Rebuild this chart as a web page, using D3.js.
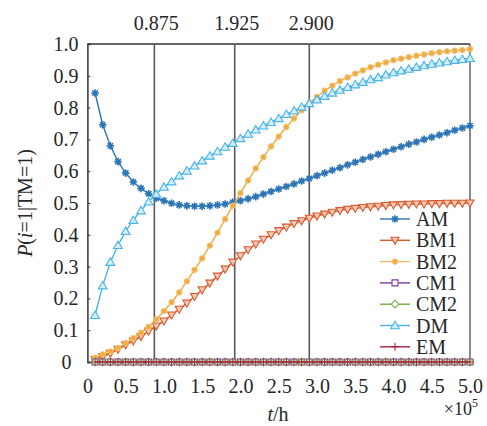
<!DOCTYPE html>
<html>
<head>
<meta charset="utf-8">
<script src="https://cdn.jsdelivr.net/npm/d3@7"></script>
<style>
  body { margin: 0; background: #fff; }
</style>
</head>
<body>
<script>
// time in units of 1e5 h
const tValues = [0.1, 0.2, 0.3, 0.4, 0.5, 0.6, 0.7, 0.8, 0.9, 1.0,
  1.1, 1.2, 1.3, 1.4, 1.5, 1.6, 1.7, 1.8, 1.9, 2.0,
  2.1, 2.2, 2.3, 2.4, 2.5, 2.6, 2.7, 2.8, 2.9, 3.0,
  3.1, 3.2, 3.3, 3.4, 3.5, 3.6, 3.7, 3.8, 3.9, 4.0,
  4.1, 4.2, 4.3, 4.4, 4.5, 4.6, 4.7, 4.8, 4.9, 5.0];

const amValues = [0.846, 0.746, 0.680, 0.630, 0.594, 0.566, 0.546, 0.529, 0.515, 0.507,
  0.499, 0.494, 0.491, 0.490, 0.490, 0.491, 0.494, 0.497, 0.502, 0.507,
  0.513, 0.520, 0.528, 0.536, 0.544, 0.552, 0.560, 0.569, 0.577, 0.586,
  0.594, 0.603, 0.611, 0.620, 0.628, 0.637, 0.645, 0.653, 0.661, 0.669,
  0.677, 0.685, 0.692, 0.700, 0.707, 0.714, 0.721, 0.729, 0.736, 0.743];

const bm1Values = [0.008, 0.017, 0.027, 0.040, 0.054, 0.066, 0.080, 0.097, 0.113, 0.129,
  0.148, 0.166, 0.185, 0.206, 0.227, 0.248, 0.270, 0.292, 0.314, 0.334,
  0.353, 0.371, 0.386, 0.400, 0.413, 0.424, 0.435, 0.444, 0.452, 0.459,
  0.465, 0.471, 0.476, 0.480, 0.483, 0.486, 0.488, 0.490, 0.492, 0.494,
  0.495, 0.496, 0.497, 0.497, 0.498, 0.498, 0.499, 0.499, 0.499, 0.500];

const bm2Values = [0.014, 0.024, 0.033, 0.044, 0.059, 0.075, 0.092, 0.111, 0.134, 0.160,
  0.188, 0.219, 0.254, 0.290, 0.326, 0.366, 0.407, 0.449, 0.491, 0.531,
  0.571, 0.609, 0.644, 0.678, 0.709, 0.739, 0.766, 0.792, 0.814, 0.834,
  0.853, 0.869, 0.883, 0.895, 0.907, 0.917, 0.927, 0.935, 0.942, 0.949,
  0.954, 0.959, 0.963, 0.967, 0.971, 0.974, 0.977, 0.979, 0.981, 0.984];

const cm1Values = [0, 0, 0, 0, 0, 0, 0, 0, 0, 0, 0, 0, 0, 0, 0, 0, 0, 0, 0, 0, 0, 0, 0, 0, 0,
  0, 0, 0, 0, 0, 0, 0, 0, 0, 0, 0, 0, 0, 0, 0, 0, 0, 0, 0, 0, 0, 0, 0, 0, 0];

const cm2Values = [0, 0, 0, 0, 0, 0, 0, 0, 0, 0, 0, 0, 0, 0, 0, 0, 0, 0, 0, 0, 0, 0, 0, 0, 0,
  0, 0, 0, 0, 0, 0, 0, 0, 0, 0, 0, 0, 0, 0, 0, 0, 0, 0, 0, 0, 0, 0, 0, 0, 0];

const dmValues = [0.147, 0.240, 0.314, 0.367, 0.411, 0.446, 0.476, 0.504, 0.528, 0.550,
  0.567, 0.586, 0.601, 0.617, 0.633, 0.648, 0.662, 0.676, 0.688, 0.703,
  0.717, 0.730, 0.743, 0.754, 0.766, 0.779, 0.790, 0.802, 0.813, 0.825,
  0.836, 0.846, 0.855, 0.864, 0.872, 0.880, 0.888, 0.895, 0.903, 0.910,
  0.916, 0.921, 0.927, 0.932, 0.937, 0.941, 0.945, 0.949, 0.952, 0.955];

const emValues = [0, 0, 0, 0, 0, 0, 0, 0, 0, 0, 0, 0, 0, 0, 0, 0, 0, 0, 0, 0, 0, 0, 0, 0, 0,
  0, 0, 0, 0, 0, 0, 0, 0, 0, 0, 0, 0, 0, 0, 0, 0, 0, 0, 0, 0, 0, 0, 0, 0, 0];

const seriesNames = ['AM', 'BM1', 'BM2', 'CM1', 'CM2', 'DM', 'EM'];
const markLines = [0.875, 1.925, 2.900];
const xTicks = [0, 0.5, 1.0, 1.5, 2.0, 2.5, 3.0, 3.5, 4.0, 4.5, 5.0];
const yTicks = [0, 0.1, 0.2, 0.3, 0.4, 0.5, 0.6, 0.7, 0.8, 0.9, 1.0];

const series = [
  { name: 'AM', values: amValues, color: '#2e75b6', marker: 'asterisk' },
  { name: 'BM1', values: bm1Values, color: '#d95a2e', marker: 'triDown' },
  { name: 'BM2', values: bm2Values, color: '#eeaa3c', marker: 'circle' },
  { name: 'CM1', values: cm1Values, color: '#7e3a9c', marker: 'square' },
  { name: 'CM2', values: cm2Values, color: '#72ad48', marker: 'diamond' },
  { name: 'DM', values: dmValues, color: '#4ab4e6', marker: 'triUp' },
  { name: 'EM', values: emValues, color: '#a5243b', marker: 'plus' }
];

const FONT = "'Liberation Serif', 'Times New Roman', serif";
const width = 487;
const height = 426;
const margin = { top: 44, right: 17, bottom: 64, left: 87.4 };

const x = d3.scaleLinear().domain([0, 5]).range([margin.left, width - margin.right]);
const y = d3.scaleLinear().domain([0, 1]).range([height - margin.bottom, margin.top]);

const svg = d3.select('body')
  .append('svg')
  .attr('width', width)
  .attr('height', height);

// frame
svg.append('line')
  .attr('x1', x(0)).attr('x2', x(5))
  .attr('y1', y(1)).attr('y2', y(1))
  .attr('stroke', '#333').attr('stroke-width', 1.5);
svg.append('line')
  .attr('x1', x(5)).attr('x2', x(5))
  .attr('y1', y(1)).attr('y2', y(0))
  .attr('stroke', '#666').attr('stroke-width', 1.5);

// vertical marker lines with labels on top
const markG = svg.append('g');
markG.selectAll('line')
  .data(markLines)
  .enter()
  .append('line')
  .attr('x1', d => x(d)).attr('x2', d => x(d))
  .attr('y1', y(1)).attr('y2', y(0))
  .attr('stroke', '#5a5a5a').attr('stroke-width', 1.6);
markG.selectAll('text')
  .data(markLines)
  .enter()
  .append('text')
  .attr('x', d => x(d) + 2)
  .attr('y', 30)
  .attr('text-anchor', 'middle')
  .attr('font-size', 20)
  .text(d => d3.format('.3f')(d));

// y axis
const yAxis = d3.axisLeft(y)
  .tickValues(yTicks)
  .tickSize(-3)
  .tickPadding(9)
  .tickFormat(d => d === 0 ? '0' : d3.format('.1f')(d));
const yG = svg.append('g')
  .attr('transform', `translate(${margin.left},0)`)
  .call(yAxis);
yG.select('.domain').attr('stroke', '#333').attr('stroke-width', 1.5);
yG.selectAll('.tick line').attr('stroke', '#333');
yG.selectAll('.tick text')
  .attr('font-size', 20)
  .attr('dx', d => d === 0 ? -7 : 0);

// x axis
const xAxis = d3.axisBottom(x)
  .tickValues(xTicks)
  .tickSize(0)
  .tickPadding(17)
  .tickFormat(d => d === 0 ? '0' : d3.format('.1f')(d));
const xG = svg.append('g')
  .attr('transform', `translate(0,${y(0)})`)
  .call(xAxis);
xG.select('.domain').attr('stroke', '#333').attr('stroke-width', 1.5);
xG.selectAll('.tick text')
  .attr('font-size', 20);

// axis titles
const xTitle = svg.append('text')
  .attr('x', 278).attr('y', 421)
  .attr('text-anchor', 'middle')
  .attr('font-size', 20);
xTitle.append('tspan').attr('font-style', 'italic').text('t');
xTitle.append('tspan').text('/h');

const expText = svg.append('text')
  .attr('x', 478).attr('y', 415)
  .attr('text-anchor', 'end')
  .attr('font-size', 18);
expText.append('tspan').text('×10');
expText.append('tspan').attr('font-size', 12).attr('dy', -8).text('5');

const yTitle = svg.append('text')
  .attr('transform', `translate(32,${(y(0) + y(1)) / 2}) rotate(-90)`)
  .attr('text-anchor', 'middle')
  .attr('font-size', 20);
yTitle.append('tspan').attr('font-style', 'italic').text('P');
yTitle.append('tspan').text('(');
yTitle.append('tspan').attr('font-style', 'italic').text('i');
yTitle.append('tspan').text('=1|TM=1)');

// marker shapes
const markerPath = (type) => {
  switch (type) {
    case 'asterisk': {
      const r = 3.8;
      let p = '';
      for (let k = 0; k < 4; k++) {
        const a = k * Math.PI / 4;
        p += `M${-r * Math.cos(a)},${-r * Math.sin(a)}L${r * Math.cos(a)},${r * Math.sin(a)}`;
      }
      return p;
    }
    case 'triDown': return 'M-4,-3L4,-3L0,4Z';
    case 'triUp': return 'M-4.4,3.2L4.4,3.2L0,-4.2Z';
    case 'circle': return 'M2.6,0A2.6,2.6 0 1,1 -2.6,0A2.6,2.6 0 1,1 2.6,0Z';
    case 'square': return 'M-3,-3H3V3H-3Z';
    case 'diamond': return 'M0,-3.8L3.8,0L0,3.8L-3.8,0Z';
    case 'plus': return 'M-4,0H4M0,-4V4';
  }
};

const markerFill = (s) => {
  if (s.marker === 'asterisk') return s.color;
  if (s.marker === 'circle') return s.color;
  if (s.marker === 'triDown') return '#f6c9b6';
  if (s.marker === 'triUp') return '#d4edf9';
  return '#fff';
};

const line = d3.line()
  .x((d, i) => x(tValues[i]))
  .y(d => y(d));

const dataG = svg.append('g');
series.forEach(s => {
  const g = dataG.append('g');
  g.append('path')
    .datum(s.values)
    .attr('d', line)
    .attr('fill', 'none')
    .attr('stroke', s.color)
    .attr('stroke-width', 1.4);
  g.selectAll('path.mk')
    .data(s.values)
    .enter()
    .append('path')
    .attr('class', 'mk')
    .attr('transform', (d, i) => `translate(${x(tValues[i])},${y(d)})`)
    .attr('d', markerPath(s.marker))
    .attr('fill', s.marker === 'plus' ? 'none' : markerFill(s))
    .attr('stroke', s.marker === 'circle' ? '#f3c06e' : s.color)
    .attr('stroke-width', s.marker === 'asterisk' ? 1.6 : 1.1);
  if (s.marker === 'asterisk') {
    g.selectAll('circle.mk2')
      .data(s.values)
      .enter()
      .append('circle')
      .attr('class', 'mk2')
      .attr('cx', (d, i) => x(tValues[i]))
      .attr('cy', d => y(d))
      .attr('r', 2)
      .attr('fill', s.color);
  }
});

// legend
const legend = svg.append('g').attr('transform', 'translate(380,219)');
const legendRow = legend.selectAll('g')
  .data(series)
  .enter()
  .append('g')
  .attr('transform', (d, i) => `translate(0,${i * 21.3})`);
legendRow.append('line')
  .attr('x1', 0).attr('x2', 30)
  .attr('stroke', d => d.marker === 'circle' ? '#f3c06e' : d.color)
  .attr('stroke-width', 1.4);
legendRow.append('path')
  .attr('transform', 'translate(15,0)')
  .attr('d', d => markerPath(d.marker))
  .attr('fill', d => d.marker === 'plus' ? 'none' : markerFill(d))
  .attr('stroke', d => d.marker === 'circle' ? '#f3c06e' : d.color)
  .attr('stroke-width', d => d.marker === 'asterisk' ? 1.6 : 1.1);
legendRow.filter(d => d.marker === 'asterisk')
  .append('circle')
  .attr('cx', 15).attr('r', 2)
  .attr('fill', d => d.color);
legendRow.append('text')
  .attr('x', 36)
  .attr('y', 7)
  .attr('font-size', 20)
  .text(d => d.name);

// serif font and text colour on every label
svg.selectAll('text')
  .style('font-family', FONT)
  .style('fill', '#262626');
</script>
</body>
</html>
